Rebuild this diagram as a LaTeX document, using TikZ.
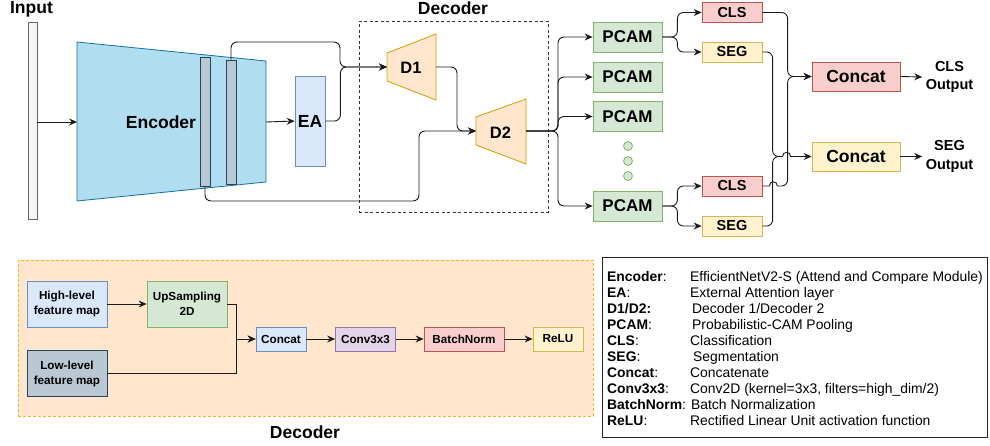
\documentclass[tikz,border=0pt]{standalone}
\usepackage{fontspec}
\setmainfont{Liberation Sans}
\usetikzlibrary{arrows.meta,calc}
\definecolor{inF}{HTML}{F5F5F5}\definecolor{inD}{HTML}{666666}
\definecolor{encF}{HTML}{B1DDF0}\definecolor{encD}{HTML}{10739E}
\definecolor{barF}{HTML}{BAC8D3}\definecolor{barD}{HTML}{23445D}
\definecolor{blueF}{HTML}{DAE8FC}\definecolor{blueD}{HTML}{6C8EBF}
\definecolor{orF}{HTML}{FFE6CC}\definecolor{orD}{HTML}{D79B00}
\definecolor{grF}{HTML}{D5E8D4}\definecolor{grD}{HTML}{82B366}
\definecolor{redF}{HTML}{F8CECC}\definecolor{redD}{HTML}{B85450}
\definecolor{yeF}{HTML}{FFF2CC}\definecolor{yeD}{HTML}{D6B656}
\definecolor{puF}{HTML}{E1D5E7}\definecolor{puD}{HTML}{9673A6}
\definecolor{goldD}{HTML}{F0B429}
\definecolor{lineC}{HTML}{1A1A1A}
\begin{document}
\begin{tikzpicture}[x=1pt,y=-1pt,
  box/.style={draw, line width=0.8pt, inner sep=0pt, align=center},
  bigf/.style={font=\bfseries\fontsize{17.5}{20}\selectfont},
  midf/.style={font=\bfseries\fontsize{14.5}{18.5}\selectfont},
  smf/.style={font=\bfseries\fontsize{11.7}{15}\selectfont},
  legf/.style={font=\fontsize{13.9}{16}\selectfont, anchor=base west, inner sep=0pt},
  pcam/.style={box, fill=grF, draw=grD, minimum width=69pt, minimum height=30pt, font=\bfseries\fontsize{17}{20}\selectfont},
  clsb/.style={box, fill=redF, draw=redD, minimum width=60pt, minimum height=20pt, midf},
  segb/.style={box, fill=yeF, draw=yeD, minimum width=60pt, minimum height=20pt, midf},
  conn/.style={draw=lineC, line width=0.9pt, rounded corners=6pt},
  arr/.style={conn, -{Stealth[length=8pt,width=7pt,inset=2.8pt]}},
  sarr/.style={draw=lineC, line width=0.9pt, -{Stealth[length=8pt,width=7pt,inset=2.8pt]}}
]
\useasboundingbox (0,0) rectangle (990,445);

% ---------------- top part ----------------
\node[bigf] (inputlbl) at (31.5,9) {Input};
\node[box, fill=inF, draw=inD, minimum width=9pt, minimum height=197pt] (input) at (32.5,120.5) {};

\draw[fill=encF, draw=encD, line width=0.8pt] (77,42) -- (266,61) -- (266,182) -- (77,201) -- cycle;
\coordinate (encW) at (77,122);
\coordinate (encE) at (266,122);
\node[bigf] (enclbl) at (161,122) {Encoder};
\node[box, fill=barF, draw=barD, minimum width=10pt, minimum height=129pt] (bar1) at (205,121.5) {};
\node[box, fill=barF, draw=barD, minimum width=10pt, minimum height=124pt] (bar2) at (231,122) {};

\node[box, fill=blueF, draw=blueD, minimum width=30pt, minimum height=90pt, bigf] (ea) at (310,121) {EA};

% decoder dashed box
\node[draw=black!80, line width=0.8pt, dash pattern=on 3pt off 2.5pt, minimum width=189pt, minimum height=191pt, inner sep=0pt] (decbox) at (453.5,116.5) {};
\node[bigf] (declbl) at (453,8) {Decoder};

\draw[fill=orF, draw=orD, line width=0.8pt] (387,53) -- (436,34) -- (436,100) -- (387,81) -- cycle;
\coordinate (d1W) at (387,67);
\coordinate (d1E) at (436,67);
\node[font=\bfseries\fontsize{16.5}{20}\selectfont] (d1lbl) at (411,68) {D1};

\draw[fill=orF, draw=orD, line width=0.8pt] (476,117) -- (526,99) -- (526,164) -- (476,145) -- cycle;
\coordinate (d2W) at (476,131);
\coordinate (d2E) at (526,131);
\node[font=\bfseries\fontsize{16.5}{20}\selectfont] (d2lbl) at (500.5,133) {D2};

\node[pcam] (p1) at (627.5,37) {PCAM};
\node[pcam] (p2) at (627.5,77) {PCAM};
\node[pcam] (p3) at (627.5,116.5) {PCAM};
\node[pcam] (p4) at (627.5,206) {PCAM};
\foreach \yy/\nn in {146/dot1,161/dot2,176/dot3}
  \node[circle, draw=grD, fill=grF, line width=0.8pt, minimum size=9pt, inner sep=0pt] (\nn) at (628,\yy) {};

\node[clsb] (cls1) at (732,12.5) {CLS};
\node[segb] (seg1) at (732,52) {SEG};
\node[clsb] (cls2) at (732,186) {CLS};
\node[segb] (seg2) at (732,226) {SEG};

\node[box, fill=redF, draw=redD, minimum width=88pt, minimum height=29pt, bigf] (concatC) at (856,76.5) {Concat};
\node[box, fill=yeF, draw=yeD, minimum width=88pt, minimum height=29pt, bigf] (concatS) at (856,156.5) {Concat};
\node[midf, align=center] (clsout) at (949.5,77) {CLS\\Output};
\node[midf, align=center] (segout) at (949.5,156.5) {SEG\\Output};

% top connectors
\draw[sarr] (input.east |- encW) -- (encW);
\draw[sarr] (encE) -- (ea.west);
\draw[arr] (ea.east) -- ++(15,0) |- (d1W);
\coordinate (jTop) at (340,42);
\draw[arr] (bar2.north) |- (jTop) |- (d1W);
\draw[arr] (d1E) -| ($(d2W)+(-19,0)$) -- (d2W);
\draw[arr] (bar1.south) |- ($(d2W)+(-57,70)$) |- (d2W);
\foreach \pp in {p1,p2,p3,p4}
  \draw[arr] (d2E) -- ++(32,0) |- (\pp.west);
\draw[arr] (p1.east) -- ++(15,0) |- (cls1.west);
\draw[arr] (p1.east) -- ++(15,0) |- (seg1.west);
\draw[arr] (p4.east) -- ++(15,0) |- (cls2.west);
\draw[arr] (p4.east) -- ++(15,0) |- (seg2.west);

\coordinate (jC) at ($(concatC.west)+(-24,0)$);
\coordinate (jS) at ($(concatS.west)+(-39,0)$);
\coordinate (hopA) at ($(concatS.west)+(-29,0)$);
\coordinate (hopB) at ($(concatS.west)+(-21,0)$);
\coordinate (hc1) at ($(cls2.east)+(7,0)$);
\coordinate (hc2) at ($(cls2.east)+(15,0)$);

\draw[arr] (cls1.east) -| (jC) -- (concatC.west);
\draw[draw=lineC, line width=0.9pt] (cls2.east) -- (hc1) .. controls ($(hc1)+(0,-5.5)$) and ($(hc2)+(0,-5.5)$) .. (hc2);
\draw[arr] (hc2) -| (jC) -- (concatC.west);
\draw[conn] (seg1.east) -| (jS) -- (hopA);
\draw[conn] (seg2.east) -| (jS) -- (hopA);
\draw[sarr] (hopA) .. controls ($(hopA)+(0,-5.5)$) and ($(hopB)+(0,-5.5)$) .. (hopB) -- (concatS.west);

\draw[sarr] (concatC.east) -- (clsout.west);
\draw[sarr] (concatS.east) -- (segout.west);

% ---------------- bottom decoder detail ----------------
\node[draw=goldD, fill=orF, line width=1pt, dash pattern=on 3pt off 2pt, minimum width=575pt, minimum height=156pt, inner sep=0pt] (detail) at (305.5,338) {};
\node[bigf] (detlbl) at (305,432) {Decoder};

\node[box, fill=blueF, draw=blueD, minimum width=80pt, minimum height=46pt, smf] (hl) at (67,304) {High-level\\feature map};
\node[box, fill=barF, draw=barD, minimum width=80pt, minimum height=46pt, smf] (ll) at (67,373.5) {Low-level\\feature map};
\node[box, fill=grF, draw=grD, minimum width=80pt, minimum height=46pt, smf] (up) at (187,304) {UpSampling\\2D};
\node[box, fill=blueF, draw=blueD, minimum width=50pt, minimum height=24pt, smf] (cc) at (281,339) {Concat};
\node[box, fill=puF, draw=puD, minimum width=60pt, minimum height=24pt, smf] (conv) at (365.5,339) {Conv3x3};
\node[box, fill=redF, draw=redD, minimum width=80pt, minimum height=24pt, smf] (bn) at (464,339) {BatchNorm};
\node[box, fill=yeF, draw=yeD, minimum width=50pt, minimum height=24pt, smf] (relu) at (558,339) {ReLU};

\draw[sarr] (hl.east) -- (up.west);
\draw[sarr] (up.east) -| ($(cc.west)+(-19,0)$) -- (cc.west);
\draw[sarr] (ll.east) -| ($(cc.west)+(-19,0)$) -- (cc.west);
\draw[sarr] (cc.east) -- (conv.west);
\draw[sarr] (conv.east) -- (bn.west);
\draw[sarr] (bn.east) -- (relu.west);

% ---------------- legend ----------------
\node[draw=black!85, line width=0.8pt, minimum width=385pt, minimum height=180pt, inner sep=0pt] (legend) at (794.5,347) {};
\node[legf] (l1) at (607,281) {\textbf{Encoder}:};
\node[legf] (d1t) at (690,281) {EfficientNetV2-S (Attend and Compare Module)};
\node[legf] (l2) at (607,297.1) {\textbf{EA}:};
\node[legf] (d2t) at (690,297.1) {External Attention layer};
\node[legf] (l3) at (607,313.2) {\textbf{D1/D2:}};
\node[legf] (d3t) at (692,313.2) {Decoder 1/Decoder 2};
\node[legf] (l4) at (607,329.3) {\textbf{PCAM}:};
\node[legf] (d4t) at (692,329.3) {Probabilistic-CAM Pooling};
\node[legf] (l5) at (607,345.4) {\textbf{CLS}:};
\node[legf] (d5t) at (690,345.4) {Classification};
\node[legf] (l6) at (607,361.5) {\textbf{SEG}:};
\node[legf] (d6t) at (693,361.5) {Segmentation};
\node[legf] (l7) at (607,377.6) {\textbf{Concat}:};
\node[legf] (d7t) at (690,377.6) {Concatenate};
\node[legf] (l8) at (607,393.7) {\textbf{Conv3x3}:};
\node[legf] (d8t) at (690,393.7) {Conv2D (kernel=3x3, filters=high\_dim/2)};
\node[legf] (l9) at (607,409.8) {\textbf{BatchNorm}: Batch Normalization};
\node[legf] (l10) at (607,425.9) {\textbf{ReLU}:};
\node[legf] (d10t) at (690,425.9) {Rectified Linear Unit activation function};
\end{tikzpicture}
\end{document}
